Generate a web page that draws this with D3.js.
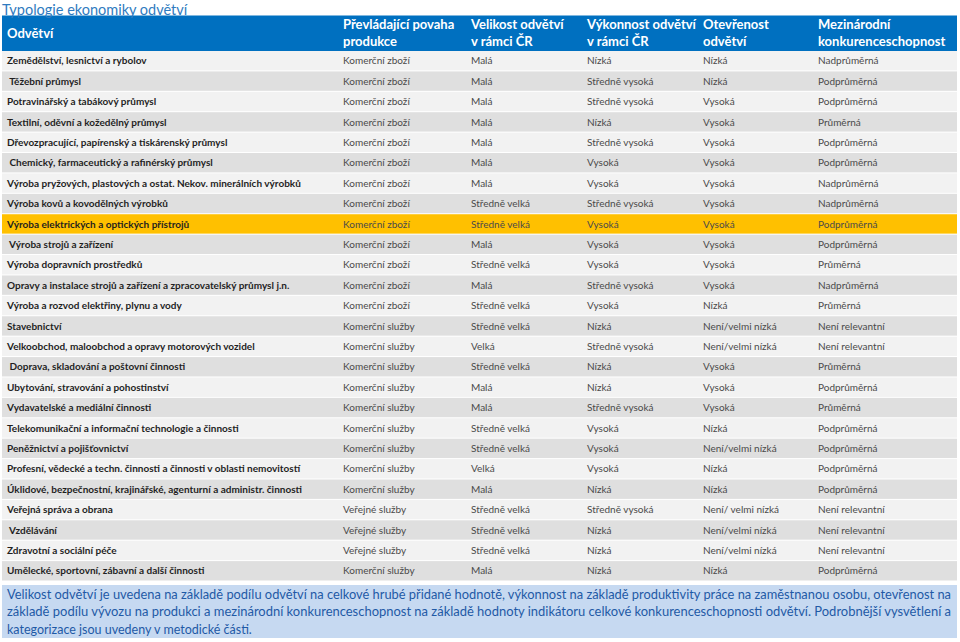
<!DOCTYPE html>
<html><head><meta charset="utf-8">
<script src="https://cdn.jsdelivr.net/npm/d3@7"></script>
<style>
html,body{margin:0;padding:0;background:#fff;}
svg text{white-space:pre;}
</style></head>
<body>
<svg id="chart" width="960" height="642"></svg>
<script>
const title = "Typologie ekonomiky odvětví";
const headers = [["Odvětví"], ["Převládající povaha", "produkce"], ["Velikost odvětví", "v rámci ČR"], ["Výkonnost odvětví", "v rámci ČR"], ["Otevřenost", "odvětví"], ["Mezinárodní", "konkurenceschopnost"]];
const sectors = [
 "Zemědělství, lesnictví a rybolov",
 " Těžební průmysl",
 "Potravinářský a tabákový průmysl",
 "Textilní, oděvní a kožedělný průmysl",
 "Dřevozpracující, papírenský a tiskárenský průmysl",
 " Chemický, farmaceutický a rafinérský průmysl",
 "Výroba pryžových, plastových a ostat. Nekov. minerálních výrobků",
 "Výroba kovů a kovodělných výrobků",
 "Výroba elektrických a optických přístrojů",
 " Výroba strojů a zařízení",
 "Výroba dopravních prostředků",
 "Opravy a instalace strojů a zařízení a zpracovatelský průmysl j.n.",
 "Výroba a rozvod elektřiny, plynu a vody",
 "Stavebnictví",
 "Velkoobchod, maloobchod a opravy motorových vozidel",
 " Doprava, skladování a poštovní činnosti",
 "Ubytování, stravování a pohostinství",
 "Vydavatelské a mediální činnosti",
 "Telekomunikační a informační technologie a činnosti",
 "Peněžnictví a pojišťovnictví",
 "Profesní, vědecké a techn. činnosti a činnosti v oblasti nemovitostí",
 "Úklidové, bezpečnostní, krajinářské, agenturní a administr. činnosti",
 "Veřejná správa a obrana",
 " Vzdělávání",
 "Zdravotní a sociální péče",
 "Umělecké, sportovní, zábavní a další činnosti"
];
const production = ["Komerční zboží","Komerční zboží","Komerční zboží","Komerční zboží","Komerční zboží","Komerční zboží","Komerční zboží","Komerční zboží","Komerční zboží","Komerční zboží","Komerční zboží","Komerční zboží","Komerční zboží",
 "Komerční služby","Komerční služby","Komerční služby","Komerční služby","Komerční služby","Komerční služby","Komerční služby","Komerční služby","Komerční služby",
 "Veřejné služby","Veřejné služby","Veřejné služby","Komerční služby"];
const size = ["Malá","Malá","Malá","Malá","Malá","Malá","Malá","Středně velká","Středně velká","Malá","Středně velká","Malá","Středně velká",
 "Středně velká","Velká","Středně velká","Malá","Malá","Středně velká","Středně velká","Velká","Malá","Středně velká","Středně velká","Středně velká","Malá"];
const performance = ["Nízká","Středně vysoká","Středně vysoká","Nízká","Středně vysoká","Vysoká","Vysoká","Středně vysoká","Vysoká","Vysoká","Vysoká","Středně vysoká","Vysoká",
 "Nízká","Středně vysoká","Nízká","Nízká","Středně vysoká","Vysoká","Vysoká","Vysoká","Nízká","Středně vysoká","Nízká","Nízká","Nízká"];
const openness = ["Nízká","Nízká","Vysoká","Vysoká","Vysoká","Vysoká","Vysoká","Vysoká","Vysoká","Vysoká","Vysoká","Vysoká","Nízká",
 "Není/velmi nízká","Není/velmi nízká","Vysoká","Vysoká","Vysoká","Nízká","Není/velmi nízká","Nízká","Nízká","Není/ velmi nízká","Není/velmi nízká","Není/velmi nízká","Nízká"];
const competitiveness = ["Nadprůměrná","Podprůměrná","Podprůměrná","Průměrná","Podprůměrná","Podprůměrná","Nadprůměrná","Nadprůměrná","Podprůměrná","Podprůměrná","Průměrná","Nadprůměrná","Průměrná",
 "Není relevantní","Není relevantní","Průměrná","Podprůměrná","Průměrná","Podprůměrná","Podprůměrná","Podprůměrná","Podprůměrná","Není relevantní","Není relevantní","Není relevantní","Podprůměrná"];
const highlighted = ["Výroba elektrických a optických přístrojů"];
const footnoteLines = [
 "Velikost odvětví je uvedena na základě podílu odvětví na celkové hrubé přidané hodnotě, výkonnost na základě produktivity práce na zaměstnanou osobu, otevřenost na",
 "základě podílu vývozu na produkci a mezinárodní konkurenceschopnost na základě hodnoty indikátoru celkové konkurenceschopnosti odvětví. Podrobnější vysvětlení a",
 "kategorizace jsou uvedeny v metodické části."
];

const rows = sectors.map((s,i)=>({sector:s, cols:[s, production[i], size[i], performance[i], openness[i], competitiveness[i]], i}));

const FONT = "Lato, 'Open Sans', sans-serif";
const svg = d3.select("#chart");
const left = 2, right = 957;
const x = d3.scaleOrdinal().domain(d3.range(6)).range([7, 343, 471, 587, 703, 818]);
const y = d3.scaleBand().domain(d3.range(rows.length)).range([51, 580.5]).paddingInner(0.05);

// header band
svg.append("rect").attr("x", left).attr("y", 15.5).attr("width", right-left).attr("height", 35.5).attr("fill", "#0070c0");

// title, drawn on top so its descenders stay visible
svg.append("text").attr("x", 2).attr("y", 14.5).attr("font-family", FONT).attr("font-size", 14.5)
  .attr("fill", "#2f7bc0").text(title);

headers.forEach((h, c) => {
  const t = svg.append("text").attr("font-family", FONT).attr("font-size", 13).attr("font-weight", "bold").attr("fill", "#fff");
  if (h.length === 1) {
    t.attr("x", x(c)).attr("y", 38).text(h[0]);
  } else {
    h.forEach((line, k) => t.append("tspan").attr("x", x(c)).attr("y", 29 + k*17).text(line));
  }
});

// rows
const g = svg.append("g");
const rg = g.selectAll("g.row").data(rows).join("g").attr("class","row");
rg.append("rect").attr("x", left).attr("width", right-left)
  .attr("y", d => y(d.i)).attr("height", y.bandwidth())
  .attr("fill", d => highlighted.includes(d.sector) ? "#ffc000" : (d.i % 2 === 0 ? "#f2f2f2" : "#dfdfdf"));
rg.selectAll("text").data(d => d.cols.map((v,c)=>({v,c,i:d.i}))).join("text")
  .attr("x", d => x(d.c)).attr("y", d => y(d.i) + y.bandwidth()/2 + 3.6)
  .attr("font-family", FONT).attr("font-size", 10)
  .attr("font-weight", d => d.c === 0 ? "bold" : "normal")
  .attr("fill", d => d.c === 0 ? "#1f1f1f" : "#4a4a4a")
  .text(d => d.v);

// footnote
svg.append("rect").attr("x", left).attr("y", 585).attr("width", right-left).attr("height", 53).attr("fill", "#c6d9f1");
footnoteLines.forEach((line, k) => {
  const t = svg.append("text").attr("x", 7).attr("y", 599 + k*17.3).attr("font-family", FONT).attr("font-size", 12.5)
    .attr("fill", "#1f5aa6").text(line);
  if (k < footnoteLines.length - 1) t.attr("textLength", 944).attr("lengthAdjust", "spacingAndGlyphs");
});
</script>
</body></html>
